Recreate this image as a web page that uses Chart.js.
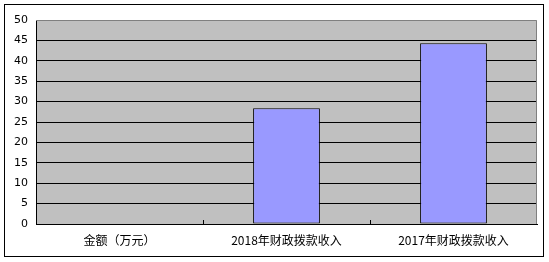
<!DOCTYPE html>
<html>
<head>
<meta charset="utf-8">
<script src="https://cdn.jsdelivr.net/npm/chart.js@4/dist/chart.umd.min.js"></script>
<style>
  html, body { margin: 0; padding: 0; background: #ffffff; }
  #wrap { width: 549px; height: 262px; position: relative; }
</style>
</head>
<body>
<div id="wrap"><canvas id="c" width="549" height="262"></canvas></div>
<script>
// Categories and values (万元)
const categories = ['金额（万元）', '2018年财政拨款收入', '2017年财政拨款收入'];
const amounts = [null, 28.4, 44.3];
const yTicks = [0, 5, 10, 15, 20, 25, 30, 35, 40, 45, 50];

// Frame, plot background, plot edges and category tick marks
const framePlugin = {
  id: 'frame',
  beforeDraw(chart) {
    const { ctx, chartArea: a } = chart;
    ctx.save();
    ctx.fillStyle = '#ffffff';
    ctx.fillRect(0, 0, chart.width, chart.height);
    ctx.strokeStyle = '#000000';
    ctx.lineWidth = 1;
    ctx.strokeRect(4.5, 4.5, 539, 252);
    ctx.fillStyle = '#c0c0c0';
    ctx.fillRect(a.left, a.top, a.right - a.left, a.bottom - a.top);
    ctx.restore();
  },
  afterDatasetsDraw(chart) {
    const { ctx, chartArea: a } = chart;
    const x = chart.scales.x;
    ctx.save();
    ctx.strokeStyle = '#808080';
    ctx.lineWidth = 1;
    ctx.beginPath();
    ctx.moveTo(a.left, a.top + 0.5);
    ctx.lineTo(a.right - 0.5, a.top + 0.5);
    ctx.lineTo(a.right - 0.5, a.bottom);
    ctx.stroke();
    ctx.strokeStyle = '#000000';
    ctx.beginPath();
    for (let i = 1; i < categories.length; i++) {
      const px = Math.round((x.getPixelForValue(i - 1) + x.getPixelForValue(i)) / 2) + 0.5;
      ctx.moveTo(px, a.bottom);
      ctx.lineTo(px, a.bottom - 4);
    }
    ctx.stroke();
    ctx.restore();
  }
};

new Chart(document.getElementById('c'), {
  type: 'bar',
  data: {
    labels: categories,
    datasets: [{
      data: amounts,
      backgroundColor: '#9999ff',
      borderColor: '#000000',
      borderWidth: 1,
      borderSkipped: false,
      barPercentage: 0.4,
      categoryPercentage: 1.0
    }]
  },
  options: {
    responsive: false,
    animation: false,
    devicePixelRatio: 1,
    layout: { padding: { left: 0, top: 20, right: 12, bottom: 0 } },
    plugins: { legend: { display: false }, tooltip: { enabled: false } },
    scales: {
      x: {
        offset: true,
        grid: { display: false, drawTicks: false },
        border: { display: true, color: '#000000', width: 1 },
        ticks: {
          color: '#000000',
          padding: 9,
          maxRotation: 0,
          autoSkip: false,
          font: { family: '"Noto Sans CJK SC", sans-serif', size: 12 }
        },
        afterFit(s) { s.height = 38; }
      },
      y: {
        min: 0,
        max: 50,
        afterBuildTicks(s) { s.ticks = yTicks.map(v => ({ value: v })); },
        grid: {
          color: ctx => (ctx.tick && ctx.tick.value === 50 ? 'rgba(0,0,0,0)' : '#000000'),
          lineWidth: 1,
          drawTicks: false
        },
        border: { display: true, color: '#000000', width: 1 },
        ticks: {
          color: '#000000',
          padding: 8,
          font: { family: '"DejaVu Sans", sans-serif', size: 11 }
        },
        afterFit(s) { s.width = 36; }
      }
    }
  },
  plugins: [framePlugin]
});
</script>
</body>
</html>
